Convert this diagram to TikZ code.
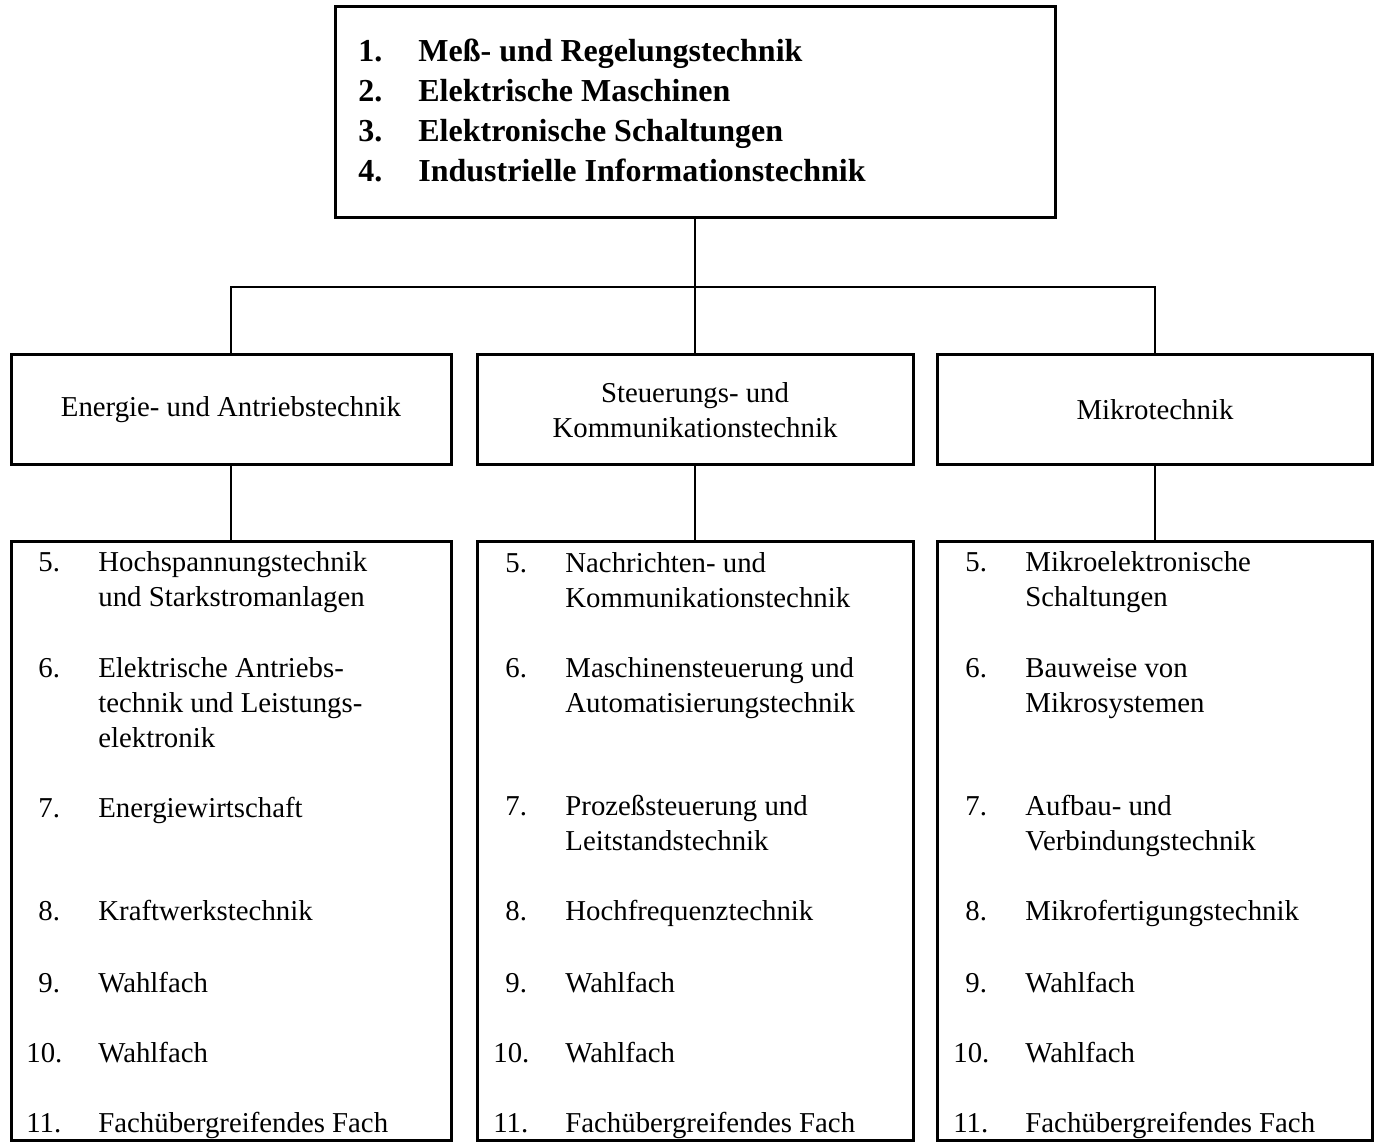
\documentclass[tikz,border=0pt]{standalone}
\usepackage{fontspec}
\setmainfont{Liberation Serif}

\tikzset{
  kasten/.style={draw, line width=1.5pt, inner sep=0pt, font=\fontsize{14.4}{17.5}\selectfont},
  linie/.style={line width=1pt},
  fach/.style={anchor=base west, inner sep=0pt, font=\fontsize{14.4}{17.5}\selectfont},
}

\begin{document}
\begin{tikzpicture}[x=0.5pt, y=-0.5pt]

        \useasboundingbox (0,0) rectangle (1375,1143);

        \node[kasten, minimum width=360pt, minimum height=105.5pt] (grund) at (695,112) {};
        \node[fach, font=\fontsize{16}{20}\selectfont\bfseries] (grundliste) at (358,62)
        {\begin{tabular}[t]{@{}p{30pt}@{}l@{}}
        1. & Meß- und Regelungstechnik\\
        2. & Elektrische Maschinen\\
        3. & Elektronische Schaltungen\\
        4. & Industrielle Informationstechnik
        \end{tabular}};

        \node[kasten, minimum width=220pt, minimum height=55pt] (energie) at (231,410)
        {Energie- und Antriebstechnik};
        \node[kasten, minimum width=218pt, minimum height=55pt, align=center] (steuer) at (695,410)
        {Steuerungs- und\\Kommunikationstechnik};
        \node[kasten, minimum width=217.5pt, minimum height=55pt] (mikro) at (1155,410)
        {Mikrotechnik};

        \node[kasten, minimum width=220pt, minimum height=299pt] (eat) at (231,841) {};
        \node[kasten, minimum width=218pt, minimum height=299pt] (skt) at (695,841) {};
        \node[kasten, minimum width=217.5pt, minimum height=299pt] (mt) at (1155,841) {};

        \coordinate (bus) at (0,287);
        \draw[linie] (grund.south) -- (grund.south |- bus);
        \draw[linie] (energie.north) -- (energie.north |- bus) -- (mikro.north |- bus) -- (mikro.north);
        \draw[linie] (steuer.north) -- (steuer.north |- bus);
        \draw[linie] (energie.south) -- (eat.north);
        \draw[linie] (steuer.south) -- (skt.north);
        \draw[linie] (mikro.south) -- (mt.north);

        \node[fach] (eat-5) at (38,572) {\begin{tabular}[t]{@{}p{30pt}@{}l@{}}
        5. & Hochspannungstechnik\\ & und Starkstromanlagen\end{tabular}};
        \node[fach] (eat-6) at (38,677) {\begin{tabular}[t]{@{}p{30pt}@{}l@{}}
        6. & Elektrische Antriebs-\\ & technik und Leistungs-\\ & elektronik\end{tabular}};
        \node[fach] (eat-7) at (38,817) {\begin{tabular}[t]{@{}p{30pt}@{}l@{}}
        7. & Energiewirtschaft\end{tabular}};
        \node[fach] (eat-8) at (38,920) {\begin{tabular}[t]{@{}p{30pt}@{}l@{}}
        8. & Kraftwerkstechnik\end{tabular}};

        \node[fach] (skt-5) at (505,573) {\begin{tabular}[t]{@{}p{30pt}@{}l@{}}
        5. & Nachrichten- und\\ & Kommunikationstechnik\end{tabular}};
        \node[fach] (skt-6) at (505,677) {\begin{tabular}[t]{@{}p{30pt}@{}l@{}}
        6. & Maschinensteuerung und\\ & Automatisierungstechnik\end{tabular}};
        \node[fach] (skt-7) at (505,815) {\begin{tabular}[t]{@{}p{30pt}@{}l@{}}
        7. & Prozeßsteuerung und\\ & Leitstandstechnik\end{tabular}};
        \node[fach] (skt-8) at (505,920) {\begin{tabular}[t]{@{}p{30pt}@{}l@{}}
        8. & Hochfrequenztechnik\end{tabular}};

        \node[fach] (mt-5) at (965,572) {\begin{tabular}[t]{@{}p{30pt}@{}l@{}}
        5. & Mikroelektronische\\ & Schaltungen\end{tabular}};
        \node[fach] (mt-6) at (965,677) {\begin{tabular}[t]{@{}p{30pt}@{}l@{}}
        6. & Bauweise von\\ & Mikrosystemen\end{tabular}};
        \node[fach] (mt-7) at (965,815) {\begin{tabular}[t]{@{}p{30pt}@{}l@{}}
        7. & Aufbau- und\\ & Verbindungstechnik\end{tabular}};
        \node[fach] (mt-8) at (965,920) {\begin{tabular}[t]{@{}p{30pt}@{}l@{}}
        8. & Mikrofertigungstechnik\end{tabular}};

        \foreach \s/\x in {eat/38, skt/505, mt/965} {
            \node[fach] (\s-9) at (\x,992) {\begin{tabular}[t]{@{}p{30pt}@{}l@{}}
            9. & Wahlfach\end{tabular}};
            \node[fach] (\s-10) at ({\x-12},1062) {\begin{tabular}[t]{@{}p{36pt}@{}l@{}}
            10. & Wahlfach\end{tabular}};
            \node[fach] (\s-11) at ({\x-12},1132) {\begin{tabular}[t]{@{}p{36pt}@{}l@{}}
            11. & Fachübergreifendes Fach\end{tabular}};
        }

    \end{tikzpicture}
\end{document}
